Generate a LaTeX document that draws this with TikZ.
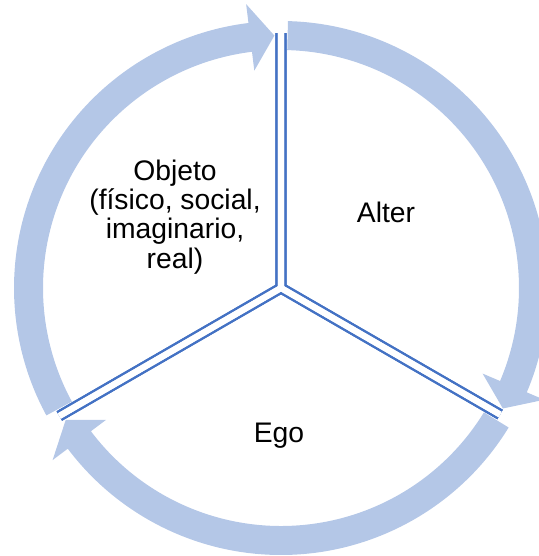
\documentclass[tikz,border=0pt]{standalone}
\usepackage{fontspec}
\setmainfont{Liberation Sans}
\usepackage{tikz}
\usetikzlibrary{calc}
\definecolor{ringBlue}{HTML}{B4C7E7}
\definecolor{lineBlue}{HTML}{4472C4}

\begin{document}
\begin{tikzpicture}[x=0.02cm,y=0.02cm,
      txt/.style={font=\fontsize{16.1}{16.6}\selectfont,align=center,inner sep=0pt},
      ring/.style={fill=ringBlue,draw=none},
      divider/.style={draw=lineBlue,line width=6.3pt,line join=miter},
      gap/.style={draw=white,line width=3.5pt,line join=miter}]
    \useasboundingbox (0,0) rectangle (539,-556);
    \coordinate (c) at (281,-288);
    % cycle arrows, clockwise
    \foreach \s in {90,-30,210}{
      \fill[ring] ($(c)+(\s-1.5:267)$) arc[start angle=\s-1.5,end angle=\s-113,radius=267]
        -- ($(c)+(\s-113:286)$) -- ($(c)+(\s-118.5:252.5)$) -- ($(c)+(\s-113:219)$)
        -- ($(c)+(\s-113:238)$) arc[start angle=\s-113,end angle=\s-1.5,radius=238] -- cycle;
    }
    % dividers
    \coordinate (top) at ($(c)+(90:255)$);
    \coordinate (right) at ($(c)+(-30:253)$);
    \coordinate (left) at ($(c)+(210:256)$);
    \draw[divider] (top) -- (c) -- (right);
    \draw[divider] (right) -- (c) -- (left);
    \draw[divider] (left) -- (c) -- (top);
    \draw[gap] (top) -- (c) -- (right);
    \draw[gap] (right) -- (c) -- (left);
    \draw[gap] (left) -- (c) -- (top);
    \node[txt] (objeto) at (175,-217) {Objeto\\(físico, social,\\imaginario,\\real)};
    \node[txt,anchor=base] (alter) at (386,-222) {Alter};
    \node[txt,anchor=base] (ego) at (279,-442) {Ego};
  \end{tikzpicture}
\end{document}
